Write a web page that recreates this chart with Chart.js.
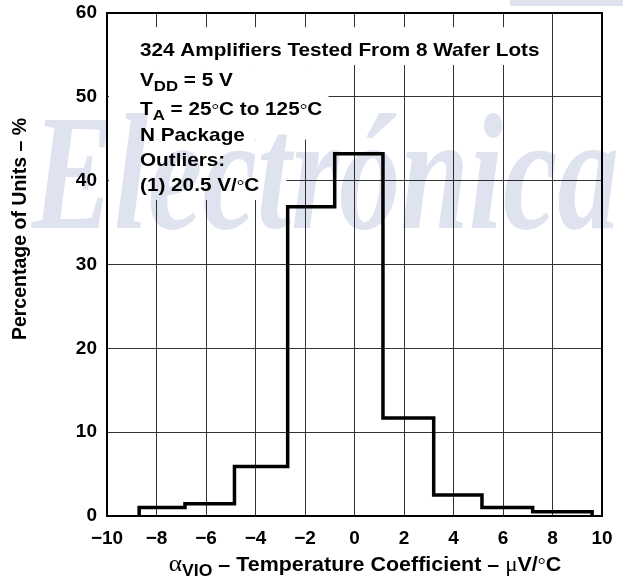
<!DOCTYPE html>
<html>
<head>
<meta charset="utf-8">
<script src="https://cdn.jsdelivr.net/npm/chart.js@4"></script>
<style>
  html, body { margin: 0; padding: 0; background: #fff; }
  #wrap { width: 623px; height: 580px; }
</style>
</head>
<body>
<div id="wrap"><canvas id="histChart" width="623" height="580"></canvas></div>
<script>
// bin edges (µV/°C) and percentage of units in each bin
const binEdges = [-8.7, -6.85, -4.85, -2.7, -0.8, 1.15, 3.2, 5.15, 7.2, 9.6];
const percentUnits = [1.0, 1.45, 5.9, 36.9, 43.2, 11.7, 2.5, 1.0, 0.5];
const xTicks = [-10, -8, -6, -4, -2, 0, 2, 4, 6, 8, 10];
const yTicks = [0, 10, 20, 30, 40, 50, 60];

const SANS = '"Liberation Sans", Arial, sans-serif';
const SERIF = '"Liberation Serif", "Times New Roman", serif';

// outline of the histogram: each point sits at the left edge of its bin
let outline = [{ x: binEdges[0], y: 0 }];
for (let i = 0; i < percentUnits.length; i++) {
    outline.push({ x: binEdges[i], y: percentUnits[i] });
}
outline.push({ x: binEdges[binEdges.length - 1], y: 0 });

// draw a list of text runs: [text, font, dy]
function drawRuns(ctx, x, y, runs, sx) {
    ctx.save();
    ctx.translate(x, y);
    ctx.scale(sx || 1, 1);
    let cx = 0;
    runs.forEach(r => {
        ctx.font = r[1];
        ctx.fillText(r[0], cx, r[2] || 0);
        cx += ctx.measureText(r[0]).width;
    });
    ctx.restore();
}
function runsWidth(ctx, runs) {
    let w = 0;
    runs.forEach(r => { ctx.font = r[1]; w += ctx.measureText(r[0]).width; });
    return w;
}

const notesPlugin = {
    id: 'notes',
    beforeDatasetsDraw(chart) {
        const ctx = chart.ctx;
        const xs = chart.scales.x, ys = chart.scales.y;
        const L = chart.chartArea.left + 2;
        // white panel behind the test conditions
        ctx.save();
        ctx.fillStyle = '#fff';
        const boxes = [[7, 58.3, 53.8], [-1.05, 53.8, 44.9], [-2.75, 44.9, 37.7]];
        boxes.forEach(b => {
            const r = xs.getPixelForValue(b[0]);
            const t = ys.getPixelForValue(b[1]);
            const btm = ys.getPixelForValue(b[2]);
            ctx.fillRect(L, t, r - L, btm - t);
        });
        ctx.fillStyle = '#000';
        ctx.textBaseline = 'alphabetic';
        const B = 'bold 18.5px ' + SANS;
        const S = 'bold 15px ' + SANS;
        const D = '17px ' + SERIF;
        const x0 = 140, sx = 1.12;
        drawRuns(ctx, x0, 56, [['324 Amplifiers Tested From 8 Wafer Lots', B]], sx);
        drawRuns(ctx, x0, 86, [['V', B], ['DD', S, 5], [' = 5 V', B]], sx);
        drawRuns(ctx, x0, 115, [['T', B], ['A', S, 5], [' = 25', B], ['°', D], ['C to 125', B], ['°', D], ['C', B]], sx);
        drawRuns(ctx, x0, 141, [['N Package', B]], sx);
        drawRuns(ctx, x0, 166, [['Outliers:', B]], sx);
        drawRuns(ctx, x0, 191, [['(1) 20.5 V/', B], ['°', D], ['C', B]], sx);
        ctx.restore();
    },
    afterDraw(chart) {
        const ctx = chart.ctx;
        ctx.save();
        ctx.fillStyle = '#000';
        // y axis title
        ctx.translate(21, 229);
        ctx.rotate(-Math.PI / 2);
        ctx.font = 'bold 19.5px ' + SANS;
        ctx.textAlign = 'center';
        ctx.textBaseline = 'middle';
        ctx.fillText('Percentage of Units \u2013 %', 0, 0);
        ctx.restore();

        // x axis title
        ctx.save();
        ctx.fillStyle = '#000';
        ctx.textBaseline = 'alphabetic';
        const runs = [
            ['\u03b1', '23px ' + SERIF],
            ['VIO', 'bold 16px ' + SANS, 5],
            [' \u2013 Temperature Coefficient \u2013 ', 'bold 19.5px ' + SANS],
            ['\u03bc', '21px ' + SERIF],
            ['V/', 'bold 19.5px ' + SANS],
            ['°', '18px ' + SERIF],
            ['C', 'bold 19.5px ' + SANS]
        ];
        const sx = 1.1;
        const w = runsWidth(ctx, runs) * sx;
        drawRuns(ctx, 365 - w / 2, 571, runs, sx);
        ctx.restore();

        // faint watermark over the whole picture
        ctx.save();
        ctx.globalCompositeOperation = 'multiply';
        ctx.fillStyle = '#dfe3ef';
        ctx.fillRect(510, 0, 113, 6);
        ctx.translate(32, 228);
        ctx.scale(0.74, 1);
        ctx.font = 'italic bold 166px ' + SERIF;
        ctx.fillText('Electr\u00f3nica', 0, 0);
        ctx.restore();
    }
};

const ctx = document.getElementById('histChart');
const histChart = new Chart(ctx, {
    type: 'line',
    data: {
        datasets: [{
            label: 'Percentage of Units',
            data: outline,
            stepped: 'before',
            borderColor: '#000',
            borderWidth: 3.5,
            pointRadius: 0,
            fill: false
        }]
    },
    options: {
        responsive: false,
        animation: false,
        layout: { padding: { left: 0, right: 21, top: 13, bottom: 0 } },
        plugins: { legend: { display: false }, tooltip: { enabled: false } },
        scales: {
            x: {
                type: 'linear',
                min: -10,
                max: 10,
                afterBuildTicks: s => { s.ticks = xTicks.map(v => ({ value: v })); },
                afterFit: s => { s.height = 64; s.paddingLeft = 0; s.paddingRight = 0; },
                grid: { color: '#333', lineWidth: 1, drawTicks: false },
                border: { color: '#000', width: 2 },
                ticks: {
                    color: '#000',
                    padding: 11,
                    maxRotation: 0,
                    font: { family: SANS, size: 19, weight: 'bold' },
                    callback: v => v < 0 ? '\u2212' + Math.abs(v) : String(v)
                }
            },
            y: {
                type: 'linear',
                min: 0,
                max: 60,
                afterBuildTicks: s => { s.ticks = yTicks.map(v => ({ value: v })); },
                afterFit: s => { s.width = 107; s.paddingTop = 0; s.paddingBottom = 0; },
                grid: { color: '#333', lineWidth: 1, drawTicks: false },
                border: { color: '#000', width: 2 },
                ticks: {
                    color: '#000',
                    padding: 10,
                    font: { family: SANS, size: 19, weight: 'bold' }
                }
            }
        }
    },
    plugins: [notesPlugin, {
        id: 'frame',
        afterDatasetsDraw(chart) {
            const a = chart.chartArea, c = chart.ctx;
            c.save();
            c.strokeStyle = '#000';
            c.lineWidth = 2;
            c.strokeRect(a.left, a.top, a.right - a.left, a.bottom - a.top);
            c.restore();
        }
    }]
});
</script>
</body>
</html>
